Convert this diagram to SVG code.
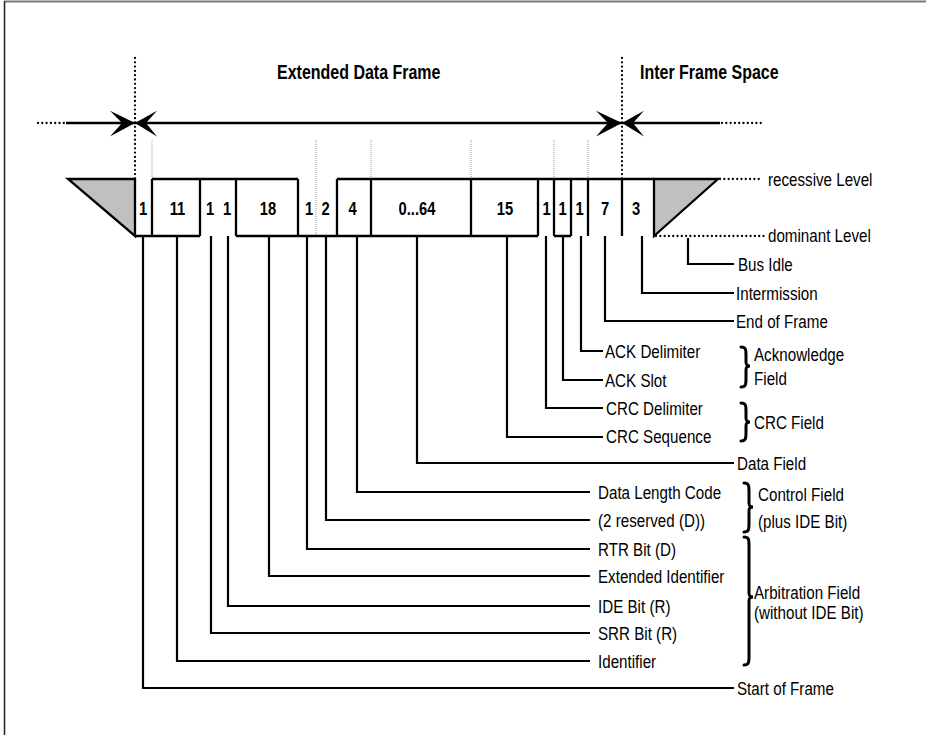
<svg xmlns="http://www.w3.org/2000/svg" width="926" height="735" viewBox="0 0 926 735">
<style>
.t{font-family:"Liberation Sans",Arial,sans-serif;font-size:18.5px;fill:#000}
.d{font-family:"Liberation Sans",Arial,sans-serif;font-size:18px;font-weight:bold;fill:#000;text-anchor:middle}
.h{font-family:"Liberation Sans",Arial,sans-serif;font-size:19.5px;font-weight:bold;fill:#000}
.sig{fill:none;stroke:#000;stroke-width:2.3;stroke-linejoin:miter}
.tri{fill:#c0c0c0;stroke:#000;stroke-width:2.3}
.lead{fill:none;stroke:#000;stroke-width:2.2}
.dot{fill:none;stroke:#000;stroke-width:2.3;stroke-linecap:round;stroke-dasharray:0 4.3}
.gdot{fill:none;stroke:#9a9a9a;stroke-width:1;stroke-dasharray:1 1}
.brace{fill:none;stroke:#000;stroke-width:3;stroke-linecap:round}
.arr{fill:#000}
</style>
<rect width="926" height="735" fill="#fff"/>
<line x1="4" y1="1.5" x2="926" y2="1.5" stroke="#7a7a7a" stroke-width="2"/>
<line x1="4.5" y1="1" x2="4.5" y2="735" stroke="#222" stroke-width="1.5"/>

<g id="titles">
<text class="h" transform="translate(277,79) scale(0.82,1)">Extended Data Frame</text>
<text class="h" transform="translate(640,79) scale(0.82,1)">Inter Frame Space</text>
</g>

<g id="timeline">
<line class="dot" x1="135" y1="58" x2="135" y2="179"/>
<line class="dot" x1="622" y1="58" x2="622" y2="179"/>
<line class="dot" x1="38" y1="123" x2="66" y2="123"/>
<line class="dot" x1="722" y1="123" x2="762" y2="123"/>
<line x1="66" y1="123" x2="720" y2="123" stroke="#000" stroke-width="2.3"/>
<polygon class="arr" points="135,123 110,110.7 122,123 110,136.5"/>
<polygon class="arr" points="135,123 157,110.7 146,123 157,136.5"/>
<polygon class="arr" points="622,123 596,110.7 608,123 596,136.5"/>
<polygon class="arr" points="622,123 644,110.7 633,123 644,136.5"/>
</g>

<g id="guides">
<line class="gdot" x1="152" y1="140" x2="152" y2="179"/>
<line class="gdot" x1="316" y1="140" x2="316" y2="236"/>
<line class="gdot" x1="371" y1="140" x2="371" y2="179"/>
<line class="gdot" x1="471" y1="140" x2="471" y2="179"/>
<line class="gdot" x1="554" y1="140" x2="554" y2="179"/>
<line class="gdot" x1="588" y1="140" x2="588" y2="179"/>
</g>

<g id="frame">
<polygon class="tri" points="68,179 135,179 135,236"/>
<polygon class="tri" points="654,179 718,179 654,236"/>
<path class="sig" d="M152,179 H298 M337,179 H654 M135,236 H200 M236,236 H538 M554,236 H571 M152,179 V236 M200,179 V236 M236,179 V236 M298,179 V236 M337,179 V236 M371,179 V236 M471,179 V236 M538,179 V236 M554,179 V236 M571,179 V236 M588,179 V236 M622,179 V236"/>
<line class="dot" x1="720" y1="179" x2="762" y2="179"/>
<line class="dot" x1="656" y1="236" x2="764" y2="236"/>
<text class="d" transform="translate(143,214.5) scale(0.82,1)">1</text>
<text class="d" transform="translate(177.5,214.5) scale(0.82,1)">11</text>
<text class="d" transform="translate(210,214.5) scale(0.82,1)">1</text>
<text class="d" transform="translate(227,214.5) scale(0.82,1)">1</text>
<text class="d" transform="translate(268,214.5) scale(0.82,1)">18</text>
<text class="d" transform="translate(309,214.5) scale(0.82,1)">1</text>
<text class="d" transform="translate(325.5,214.5) scale(0.82,1)">2</text>
<text class="d" transform="translate(352.5,214.5) scale(0.82,1)">4</text>
<text class="d" transform="translate(417,214.5) scale(0.82,1)">0...64</text>
<text class="d" transform="translate(505,214.5) scale(0.82,1)">15</text>
<text class="d" transform="translate(546.5,214.5) scale(0.82,1)">1</text>
<text class="d" transform="translate(562.5,214.5) scale(0.82,1)">1</text>
<text class="d" transform="translate(579.5,214.5) scale(0.82,1)">1</text>
<text class="d" transform="translate(605,214.5) scale(0.82,1)">7</text>
<text class="d" transform="translate(636,214.5) scale(0.82,1)">3</text>
<text class="t" transform="translate(768,186) scale(0.82,1)">recessive Level</text>
<text class="t" transform="translate(768,242) scale(0.82,1)">dominant Level</text>
</g>

<g id="connectors">
<path class="lead" d="M143,236 V688 H734"/>
<path class="lead" d="M177,236 V661 H590"/>
<path class="lead" d="M211,236 V633 H590"/>
<path class="lead" d="M228,236 V606 H590"/>
<path class="lead" d="M269,236 V576 H590"/>
<path class="lead" d="M307,236 V549 H590"/>
<path class="lead" d="M326,236 V520 H590"/>
<path class="lead" d="M357,236 V492 H590"/>
<path class="lead" d="M417,236 V463 H734"/>
<path class="lead" d="M507,236 V437 H603"/>
<path class="lead" d="M546,236 V408 H603"/>
<path class="lead" d="M563,236 V380 H603"/>
<path class="lead" d="M581,236 V351 H603"/>
<path class="lead" d="M605,236 V321 H734"/>
<path class="lead" d="M642,236 V293 H734"/>
<path class="lead" d="M688,238 V264 H734"/>
</g>

<g id="label-bus-idle"><text class="t" transform="translate(738,270.5) scale(0.82,1)">Bus Idle</text></g>
<g id="label-intermission"><text class="t" transform="translate(736,299.5) scale(0.82,1)">Intermission</text></g>
<g id="label-eof"><text class="t" transform="translate(736,327.5) scale(0.82,1)">End of Frame</text></g>
<g id="label-ack-delim"><text class="t" transform="translate(605,357.5) scale(0.82,1)">ACK Delimiter</text></g>
<g id="label-ack-slot"><text class="t" transform="translate(605,386.5) scale(0.82,1)">ACK Slot</text></g>
<g id="label-crc-delim"><text class="t" transform="translate(606,414.5) scale(0.82,1)">CRC Delimiter</text></g>
<g id="label-crc-seq"><text class="t" transform="translate(606,443) scale(0.82,1)">CRC Sequence</text></g>
<g id="label-data"><text class="t" transform="translate(737,469.5) scale(0.82,1)">Data Field</text></g>
<g id="label-dlc"><text class="t" transform="translate(598,498.5) scale(0.82,1)">Data Length Code</text></g>
<g id="label-reserved"><text class="t" transform="translate(598,526.5) scale(0.82,1)">(2 reserved (D))</text></g>
<g id="label-rtr"><text class="t" transform="translate(598,555.5) scale(0.82,1)">RTR Bit (D)</text></g>
<g id="label-extid"><text class="t" transform="translate(598,582.5) scale(0.82,1)">Extended Identifier</text></g>
<g id="label-ide"><text class="t" transform="translate(598,612.5) scale(0.82,1)">IDE Bit (R)</text></g>
<g id="label-srr"><text class="t" transform="translate(598,639.5) scale(0.82,1)">SRR Bit (R)</text></g>
<g id="label-id"><text class="t" transform="translate(598,667.5) scale(0.82,1)">Identifier</text></g>
<g id="label-sof"><text class="t" transform="translate(737,694.5) scale(0.82,1)">Start of Frame</text></g>

<g id="group-ack">
<path class="brace" d="M741,347 C746,347 746,350 746,355 L746,362 C746,365 747,366 750,366 C747,366 746,367 746,370 L746,379 C746,384 746,387 741,387"/>
<text class="t" transform="translate(754,361) scale(0.82,1)">Acknowledge</text>
<text class="t" transform="translate(754,385) scale(0.82,1)">Field</text>
</g>
<g id="group-crc">
<path class="brace" d="M741,403 C746,403 746,406 746,411 L746,418 C746,421 747,422 750,422 C747,422 746,423 746,426 L746,433 C746,438 746,441 741,441"/>
<text class="t" transform="translate(754,429) scale(0.82,1)">CRC Field</text>
</g>
<g id="group-control">
<path class="brace" d="M744,483 C749,483 749,486 749,491 L749,503 C749,506 750,507 753,507 C750,507 749,508 749,511 L749,524 C749,529 749,532 744,532"/>
<text class="t" transform="translate(758,501) scale(0.82,1)">Control Field</text>
<text class="t" transform="translate(758,528) scale(0.82,1)">(plus IDE Bit)</text>
</g>
<g id="group-arbitration">
<path class="brace" d="M744,537 C749,537 749,540 749,545 L749,593 C749,596 750,597 753,597 C750,597 749,598 749,601 L749,657 C749,662 749,665 744,665"/>
<text class="t" transform="translate(754,599) scale(0.82,1)">Arbitration Field</text>
<text class="t" transform="translate(754,619) scale(0.82,1)">(without IDE Bit)</text>
</g>
</svg>
